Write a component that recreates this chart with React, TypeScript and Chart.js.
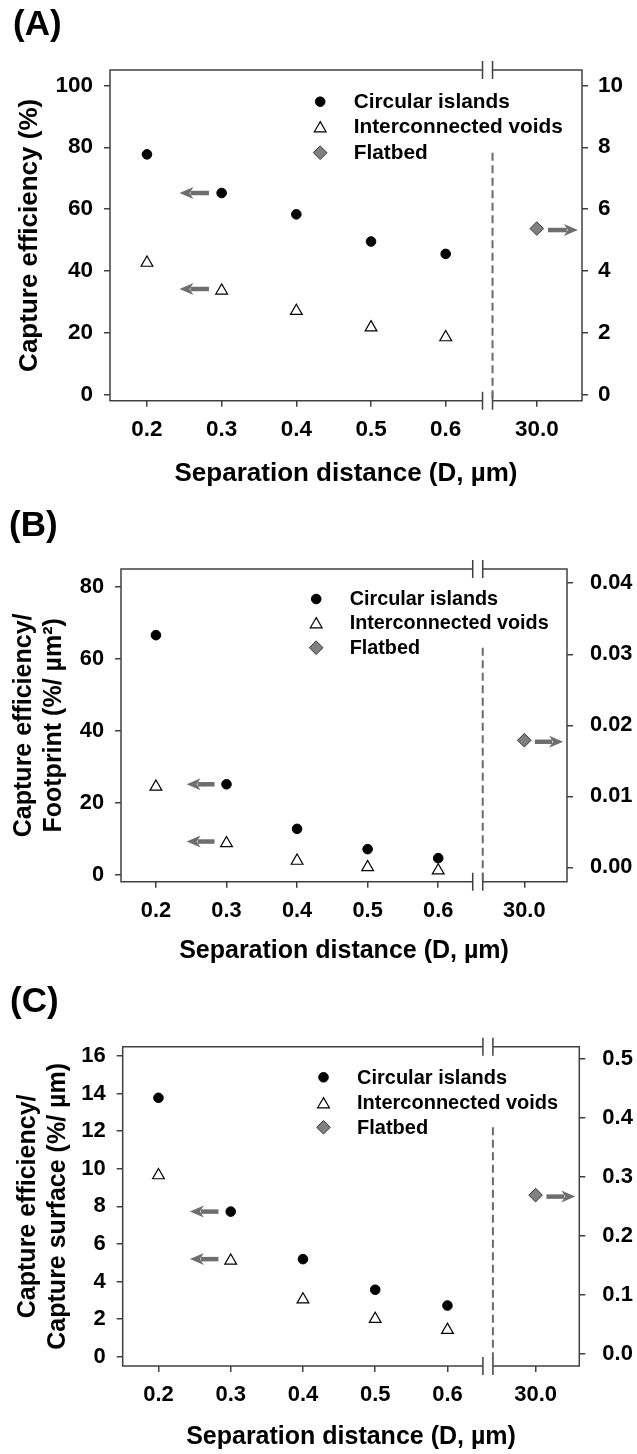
import React, { useEffect, useRef } from 'react';
import { Chart, registerables } from 'chart.js';

Chart.register(...registerables);

// ---------- data ----------
const legendLabels = ['Circular islands', 'Interconnected voids', 'Flatbed'];
const separations = [0.2, 0.3, 0.4, 0.5, 0.6];
const flatbedSeparation = 30.0;
const xTickValues = [0.2, 0.3, 0.4, 0.5, 0.6, 30.0];

// (A) capture efficiency (%)
const circularA = [77.7, 65.2, 58.3, 49.5, 45.5];
const voidsA = [42.6, 33.6, 27.0, 21.7, 18.5];
const flatbedA = 5.37;
const leftTicksA = [0, 20, 40, 60, 80, 100];
const rightTicksA = [0, 2, 4, 6, 8, 10];

// (B) capture efficiency / footprint (%/um2)
const circularB = [66.6, 25.1, 12.7, 7.05, 4.55];
const voidsB = [24.4, 8.7, 3.8, 2.0, 1.1];
const flatbedB = 0.0179;
const leftTicksB = [0, 20, 40, 60, 80];
const rightTicksB = [0, 0.01, 0.02, 0.03, 0.04];

// (C) capture efficiency / capture surface (%/um)
const circularC = [13.78, 7.72, 5.19, 3.56, 2.72];
const voidsC = [9.65, 5.1, 3.04, 2.0, 1.42];
const flatbedC = 0.269;
const leftTicksC = [0, 2, 4, 6, 8, 10, 12, 14, 16];
const rightTicksC = [0, 0.1, 0.2, 0.3, 0.4, 0.5];

// ---------- broken x axis mapping ----------
const X_MIN = 0.1505;
const X_MAX = 0.7825;
const BREAK_AT = 0.656;
const FAR_POS = 0.722;
const mapX = (d: number) => (d > 1 ? FAR_POS + (d - flatbedSeparation) * 0.01 : d);

const FONT = "'Liberation Sans', Arial, Helvetica, sans-serif";
const AXIS_COLOR = '#404040';
const ARROW_COLOR = '#6e6e6e';

type Panel = {
  label: string;
  top: number;
  height: number;
  padTop: number;
  leftW: number;
  rightW: number;
  xH: number;
  yMin: number;
  yMax: number;
  yTicks: number[];
  yDec: number;
  y2Min: number;
  y2Max: number;
  y2Ticks: number[];
  y2Dec: number;
  yTitle: string | string[];
  yTitlePad: number;
  xTitlePad: number;
  y2Pad: number;
  circular: number[];
  voids: number[];
  flatbed: number;
  labelPos: [number, number];
  legendX: number;
  legendRows: number[];
  tickSize: number;
  titleSize: number;
  legendSize: number;
};

const panels: Panel[] = [
  {
    label: '(A)', top: 0, height: 490, padTop: 70, leftW: 110, rightW: 55, xH: 89.3,
    yMin: -2, yMax: 105, yTicks: leftTicksA, yDec: 0,
    y2Min: -0.2, y2Max: 10.5, y2Ticks: rightTicksA, y2Dec: 0,
    yTitle: 'Capture efficiency (%)', yTitlePad: 14.4, xTitlePad: 0.4, y2Pad: 10,
    circular: circularA, voids: voidsA, flatbed: flatbedA,
    labelPos: [13, 25.5], legendX: 353.7, legendRows: [101.7, 126.7, 152.7],
    tickSize: 22.5, titleSize: 26, legendSize: 20.8,
  },
  {
    label: '(B)', top: 490, height: 480, padTop: 79, leftW: 121, rightW: 70, xH: 88.3,
    yMin: -2, yMax: 85, yTicks: leftTicksB, yDec: 0,
    y2Min: -0.002, y2Max: 0.042, y2Ticks: rightTicksB, y2Dec: 2,
    yTitle: ['Capture efficiency/', 'Footprint (%/ µm²)'], yTitlePad: 9.4, xTitlePad: 3.4, y2Pad: 17,
    circular: circularB, voids: voidsB, flatbed: flatbedB,
    labelPos: [9, 36.5], legendX: 349.7, legendRows: [109, 132.7, 157.7],
    tickSize: 21.8, titleSize: 25, legendSize: 19.8,
  },
  {
    label: '(C)', top: 970, height: 484, padTop: 76.7, leftW: 122.7, rightW: 57.7, xH: 88,
    yMin: -0.5, yMax: 16.5, yTicks: leftTicksC, yDec: 0,
    y2Min: -0.02, y2Max: 0.52, y2Ticks: rightTicksC, y2Dec: 1,
    yTitle: ['Capture efficiency/', 'Capture surface (%/ µm)'], yTitlePad: 13.4, xTitlePad: 1.7, y2Pad: 17,
    circular: circularC, voids: voidsC, flatbed: flatbedC,
    labelPos: [10, 32.5], legendX: 357, legendRows: [107.3, 132.7, 157.3],
    tickSize: 22, titleSize: 25, legendSize: 20,
  },
];

function drawArrow(ctx: CanvasRenderingContext2D, tailX: number, tipX: number, y: number) {
  const dir = tipX > tailX ? 1 : -1;
  const headLen = 14;
  const headHalf = 6;
  ctx.save();
  ctx.strokeStyle = ARROW_COLOR;
  ctx.fillStyle = ARROW_COLOR;
  ctx.lineWidth = 4.5;
  ctx.beginPath();
  ctx.moveTo(tailX, y);
  ctx.lineTo(tipX - dir * (headLen - 3), y);
  ctx.stroke();
  ctx.beginPath();
  ctx.moveTo(tipX, y);
  ctx.lineTo(tipX - dir * headLen, y - headHalf);
  ctx.lineTo(tipX - dir * (headLen - 4), y);
  ctx.lineTo(tipX - dir * headLen, y + headHalf);
  ctx.closePath();
  ctx.fill();
  ctx.restore();
}

function drawMarker(ctx: CanvasRenderingContext2D, kind: number, x: number, y: number) {
  ctx.save();
  ctx.beginPath();
  if (kind === 0) {
    ctx.arc(x, y, 4.8, 0, Math.PI * 2);
    ctx.fillStyle = '#000';
    ctx.strokeStyle = '#000';
    ctx.lineWidth = 1;
  } else if (kind === 1) {
    const r = 6.8;
    const cy = y + r / 4;
    ctx.moveTo(x, cy - r);
    ctx.lineTo(x + Math.sin((2 * Math.PI) / 3) * r, cy + r / 2);
    ctx.lineTo(x - Math.sin((2 * Math.PI) / 3) * r, cy + r / 2);
    ctx.closePath();
    ctx.fillStyle = '#fff';
    ctx.strokeStyle = '#000';
    ctx.lineWidth = 1.2;
  } else {
    const r = 6.8;
    ctx.moveTo(x - r, y);
    ctx.lineTo(x, y - r);
    ctx.lineTo(x + r, y);
    ctx.lineTo(x, y + r);
    ctx.closePath();
    ctx.fillStyle = '#808080';
    ctx.strokeStyle = '#333';
    ctx.lineWidth = 1;
  }
  ctx.fill();
  ctx.stroke();
  ctx.restore();
}

function makeDecor(p: Panel) {
  return {
    id: 'decor' + p.label,
    afterDraw(chart: any) {
      const { ctx, chartArea } = chart;
      const { left, right, top, bottom } = chartArea;
      const xs = chart.scales.x;
      const ys = chart.scales.y;
      const y2s = chart.scales.y2;
      const bc = xs.getPixelForValue(BREAK_AT);
      const b1 = bc - 5;
      const b2 = bc + 5;

      // frame with axis break
      ctx.save();
      ctx.strokeStyle = AXIS_COLOR;
      ctx.lineWidth = 1.5;
      ctx.beginPath();
      ctx.moveTo(left, top - 0.75);
      ctx.lineTo(left, bottom + 0.75);
      ctx.moveTo(right, top - 0.75);
      ctx.lineTo(right, bottom + 0.75);
      ctx.moveTo(left, top);
      ctx.lineTo(b1, top);
      ctx.moveTo(b2, top);
      ctx.lineTo(right, top);
      ctx.moveTo(left, bottom);
      ctx.lineTo(b1, bottom);
      ctx.moveTo(b2, bottom);
      ctx.lineTo(right, bottom);
      for (const bx of [b1, b2]) {
        for (const ey of [top, bottom]) {
          ctx.moveTo(bx, ey - 9);
          ctx.lineTo(bx, ey + 9);
        }
      }
      ctx.stroke();

      // dashed separator
      ctx.strokeStyle = '#6a6a6a';
      ctx.lineWidth = 2;
      ctx.setLineDash([8, 4.5]);
      ctx.beginPath();
      ctx.moveTo(b2, p.legendRows[2]);
      ctx.lineTo(b2, bottom);
      ctx.stroke();
      ctx.setLineDash([]);
      ctx.restore();

      // arrows toward the axes
      const tail = xs.getPixelForValue(0.283);
      const tip = xs.getPixelForValue(0.2435);
      drawArrow(ctx, tail, tip, ys.getPixelForValue(p.circular[1]));
      drawArrow(ctx, tail, tip, ys.getPixelForValue(p.voids[1]) - 1.7);
      drawArrow(
        ctx,
        xs.getPixelForValue(0.737),
        xs.getPixelForValue(0.777),
        y2s.getPixelForValue(p.flatbed) + 1.5
      );

      // legend
      ctx.save();
      ctx.font = `bold ${p.legendSize}px ${FONT}`;
      ctx.fillStyle = '#000';
      ctx.textAlign = 'left';
      ctx.textBaseline = 'middle';
      legendLabels.forEach((txt, i) => {
        const ry = p.legendRows[i];
        drawMarker(ctx, i, p.legendX - 33.5, ry);
        ctx.fillText(txt, p.legendX, ry + 1);
      });
      ctx.restore();

      // panel label
      ctx.save();
      ctx.font = `bold 35px ${FONT}`;
      ctx.fillStyle = '#000';
      ctx.textAlign = 'left';
      ctx.textBaseline = 'middle';
      ctx.fillText(p.label, p.labelPos[0], p.labelPos[1]);
      ctx.restore();
    },
  };
}

function PanelChart({ p }: { p: Panel }) {
  const ref = useRef<HTMLCanvasElement | null>(null);
  useEffect(() => {
    if (!ref.current) return;
    const tickFont = { family: FONT, size: p.tickSize, weight: 'bold' as const };
    const titleFont = { family: FONT, size: p.titleSize, weight: 'bold' as const, lineHeight: 1.2 };
    const gridOpts = {
      display: true,
      drawOnChartArea: false,
      drawTicks: true,
      tickLength: 6,
      color: AXIS_COLOR,
      lineWidth: 1.5,
    };
    const xLabels = xTickValues.map((v) => v.toFixed(1));
    const chart = new Chart(ref.current, {
      type: 'scatter',
      data: {
        datasets: [
          {
            label: legendLabels[0],
            data: separations.map((s, i) => ({ x: mapX(s), y: p.circular[i] })),
            pointStyle: 'circle',
            pointRadius: 4.8,
            pointBackgroundColor: '#000',
            pointBorderColor: '#000',
            pointBorderWidth: 1,
            yAxisID: 'y',
          },
          {
            label: legendLabels[1],
            data: separations.map((s, i) => ({ x: mapX(s), y: p.voids[i] })),
            pointStyle: 'triangle',
            pointRadius: 6.8,
            pointBackgroundColor: '#fff',
            pointBorderColor: '#000',
            pointBorderWidth: 1.2,
            yAxisID: 'y',
          },
          {
            label: legendLabels[2],
            data: [{ x: mapX(flatbedSeparation), y: p.flatbed }],
            pointStyle: 'rectRot',
            pointRadius: 6.8,
            pointBackgroundColor: '#808080',
            pointBorderColor: '#333',
            pointBorderWidth: 1,
            yAxisID: 'y2',
          },
        ],
      },
      options: {
        responsive: false,
        animation: false,
        events: [],
        layout: { padding: { top: p.padTop, left: 0, right: 0, bottom: 0 } },
        plugins: { legend: { display: false }, tooltip: { enabled: false } },
        scales: {
          x: {
            type: 'linear',
            position: 'bottom',
            min: X_MIN,
            max: X_MAX,
            afterBuildTicks: (s: any) => {
              s.ticks = xTickValues.map((v) => ({ value: mapX(v) }));
            },
            afterFit: (s: any) => {
              s.height = p.xH;
            },
            ticks: {
              font: tickFont,
              color: '#000',
              padding: 10,
              maxRotation: 0,
              autoSkip: false,
              callback: (_v: any, i: number) => xLabels[i],
            },
            grid: gridOpts,
            border: { display: false },
            title: {
              display: true,
              text: 'Separation distance (D, µm)',
              font: titleFont,
              color: '#000',
              padding: { top: 0, bottom: p.xTitlePad },
            },
          },
          y: {
            type: 'linear',
            position: 'left',
            min: p.yMin,
            max: p.yMax,
            afterBuildTicks: (s: any) => {
              s.ticks = p.yTicks.map((v) => ({ value: v }));
            },
            afterFit: (s: any) => {
              s.width = p.leftW;
            },
            ticks: {
              font: tickFont,
              color: '#000',
              padding: 11,
              autoSkip: false,
              callback: (v: any) => Number(v).toFixed(p.yDec),
            },
            grid: gridOpts,
            border: { display: false },
            title: {
              display: true,
              text: p.yTitle,
              font: titleFont,
              color: '#000',
              padding: { top: p.yTitlePad, bottom: 0 },
            },
          },
          y2: {
            type: 'linear',
            position: 'right',
            min: p.y2Min,
            max: p.y2Max,
            afterBuildTicks: (s: any) => {
              s.ticks = p.y2Ticks.map((v) => ({ value: v }));
            },
            afterFit: (s: any) => {
              s.width = p.rightW;
            },
            ticks: {
              font: tickFont,
              color: '#000',
              padding: p.y2Pad,
              autoSkip: false,
              callback: (v: any) => Number(v).toFixed(p.y2Dec),
            },
            grid: gridOpts,
            border: { display: false },
          },
        },
      },
      plugins: [makeDecor(p)],
    } as any);
    return () => chart.destroy();
  }, [p]);
  return (
    <canvas
      ref={ref}
      width={637}
      height={p.height}
      style={{ position: 'absolute', left: 0, top: p.top, width: 637, height: p.height }}
    />
  );
}

export default function App() {
  return (
    <div
      style={{
        position: 'absolute',
        left: 0,
        top: 0,
        width: 637,
        height: 1454,
        background: '#fff',
        overflow: 'hidden',
      }}
    >
      {panels.map((p) => (
        <PanelChart key={p.label} p={p} />
      ))}
    </div>
  );
}
